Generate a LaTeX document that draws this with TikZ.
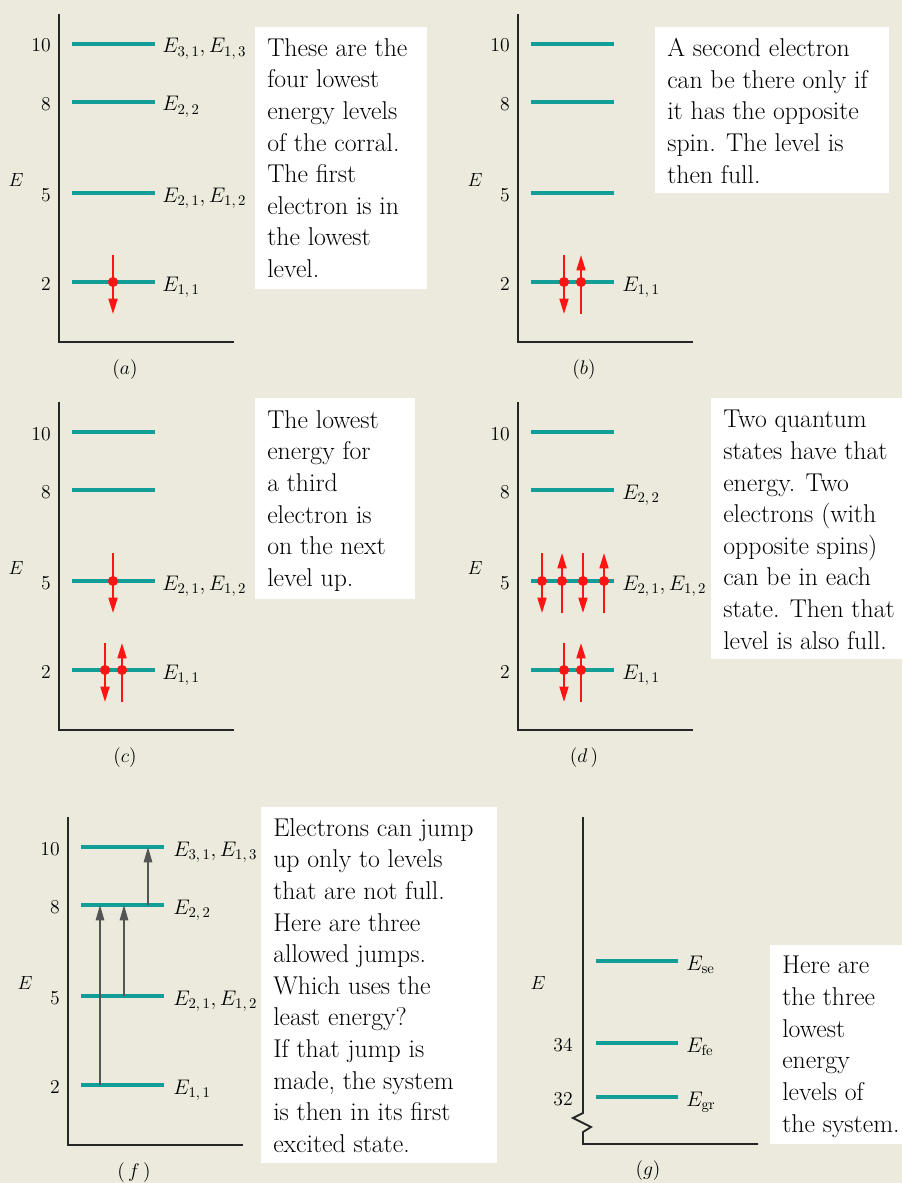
\RequirePackage{fix-cm}
\documentclass[tikz,border=0pt]{standalone}
\usepackage{tikz}
\usetikzlibrary{arrows.meta,positioning,calc}
\definecolor{fond}{HTML}{EBEADC}
\definecolor{niv}{HTML}{119E99}
\definecolor{rouge}{HTML}{FF1414}
\definecolor{gris}{HTML}{555555}
\tikzset{
  axe/.style={draw=black!85, line width=1.3pt},
  niveau/.style={draw=niv, line width=2.8pt},
  spin/.style={draw=rouge, line width=1.4pt, -{Triangle[length=11pt, width=6.4pt]}},
  saut/.style={draw=gris, line width=1.3pt, -{Triangle[length=11pt, width=6pt]}},
  graduation/.style={anchor=base east, inner sep=0pt, font=\fontsize{14}{16}\selectfont},
  etiq/.style={anchor=base west, inner sep=0pt, font=\fontsize{15}{17}\selectfont},
  axenom/.style={inner sep=0pt, font=\fontsize{13.5}{15}\selectfont},
  legende/.style={inner sep=0pt, font=\fontsize{14}{16}\selectfont},
  texte/.style={anchor=north west, align=left, inner sep=0pt, font=\fontsize{18.3}{22.5}\selectfont},
}

\begin{document}
\begin{tikzpicture}[x=0.025cm, y=-0.025cm]
  \fill[fond] (0,0) rectangle (902,1183);

  % (a)
  \begin{scope}[shift={(0,0)}]
    \draw[axe] (59,14) -- (59,342) -- (234,342);
    \foreach \y/\v in {44/10,102/8,193/5,282/2} {
      \draw[niveau] (72,\y) -- (155,\y);
      \node[graduation] (na\v) at (51,\y+8) {\v};
    }
    \node[axenom] (Ea) at (16,180) {$E$};
    \node[etiq] (la10) at (162,53) {$E_{3,\,1}, E_{1,\,3}$};
    \node[etiq] (la8) at (162,111) {$E_{2,\,2}$};
    \node[etiq] (la5) at (162,202) {$E_{2,\,1}, E_{1,\,2}$};
    \node[etiq] (la2) at (162,291) {$E_{1,\,1}$};
    \draw[spin] (113,255) -- (113,314);
    \fill[rouge] (113,282) circle (3.6pt);
    \node[legende] (capa) at (125,370) {$(a)$};
  \end{scope}

  % (b)
  \begin{scope}[shift={(459,0)}]
    \draw[axe] (59,14) -- (59,342) -- (234,342);
    \foreach \y/\v in {44/10,102/8,193/5,282/2} {
      \draw[niveau] (72,\y) -- (155,\y);
      \node[graduation] (nb\v) at (51,\y+8) {\v};
    }
    \node[axenom] (Eb) at (16,180) {$E$};
    \node[etiq] (lb2) at (163,291) {$E_{1,\,1}$};
    \draw[spin] (105,255) -- (105,314);
    \draw[spin] (122,314) -- (122,255);
    \fill[rouge] (105,282) circle (3.6pt) (122,282) circle (3.6pt);
    \node[legende] (capb) at (125,370) {$(b)$};
  \end{scope}

  % (c)
  \begin{scope}[shift={(0,388)}]
    \draw[axe] (59,14) -- (59,342) -- (234,342);
    \foreach \y/\v in {44/10,102/8,193/5,282/2} {
      \draw[niveau] (72,\y) -- (155,\y);
      \node[graduation] (nc\v) at (51,\y+8) {\v};
    }
    \node[axenom] (Ec) at (16,180) {$E$};
    \node[etiq] (lc5) at (162,202) {$E_{2,\,1}, E_{1,\,2}$};
    \node[etiq] (lc2) at (162,291) {$E_{1,\,1}$};
    \draw[spin] (113,165) -- (113,225);
    \draw[spin] (105,255) -- (105,314);
    \draw[spin] (122,314) -- (122,255);
    \fill[rouge] (113,193) circle (3.6pt) (105,282) circle (3.6pt) (122,282) circle (3.6pt);
    \node[legende] (capc) at (125,370) {$(c)$};
  \end{scope}

  % (d)
  \begin{scope}[shift={(459,388)}]
    \draw[axe] (59,14) -- (59,342) -- (234,342);
    \foreach \y/\v in {44/10,102/8,193/5,282/2} {
      \draw[niveau] (72,\y) -- (155,\y);
      \node[graduation] (nd\v) at (51,\y+8) {\v};
    }
    \node[axenom] (Ed) at (16,180) {$E$};
    \node[etiq] (ld8) at (163,111) {$E_{2,\,2}$};
    \node[etiq] (ld5) at (163,202) {$E_{2,\,1}, E_{1,\,2}$};
    \node[etiq] (ld2) at (163,291) {$E_{1,\,1}$};
    \foreach \x in {83,124} {
      \draw[spin] (\x,165) -- (\x,225);
      \fill[rouge] (\x,193) circle (3.6pt);
    }
    \foreach \x in {103,145} {
      \draw[spin] (\x,225) -- (\x,165);
      \fill[rouge] (\x,193) circle (3.6pt);
    }
    \draw[spin] (105,255) -- (105,314);
    \draw[spin] (122,314) -- (122,255);
    \fill[rouge] (105,282) circle (3.6pt) (122,282) circle (3.6pt);
    \node[legende] (capd) at (125,370) {$(d\,)$};
  \end{scope}

  % (f)
  \begin{scope}[shift={(9,803)}]
    \draw[axe] (59,14) -- (59,342) -- (234,342);
    \foreach \y/\v in {44/10,102/8,193/5,282/2} {
      \draw[niveau] (72,\y) -- (155,\y);
      \node[graduation] (nf\v) at (51,\y+8) {\v};
    }
    \node[axenom] (Ef) at (16,180) {$E$};
    \node[etiq] (lf10) at (164,53) {$E_{3,\,1}, E_{1,\,3}$};
    \node[etiq] (lf8) at (164,111) {$E_{2,\,2}$};
    \node[etiq] (lf5) at (164,202) {$E_{2,\,1}, E_{1,\,2}$};
    \node[etiq] (lf2) at (164,291) {$E_{1,\,1}$};
    \coordinate (f2a) at (91,282);
    \coordinate (f8a) at (91,102);
    \coordinate (f5b) at (115,193);
    \coordinate (f8b) at (115,102);
    \coordinate (f8c) at (139,102);
    \coordinate (f10c) at (139,44);
    \draw[saut] (f2a) -- (f8a);
    \draw[saut] (f5b) -- (f8b);
    \draw[saut] (f8c) -- (f10c);
    \node[legende] (capf) at (125,370) {$(\,f\,)$};
  \end{scope}

  % (g)
  \begin{scope}[shift={(523,803)}]
    \draw[axe] (60,14) -- (60,310) -- (50,315) -- (68,324) -- (60,329) -- (60,341) -- (235,341);
    \foreach \y in {158,240,294} {
      \draw[niveau] (73,\y) -- (155,\y);
    }
    \node[graduation] (ng34) at (50,248) {34};
    \node[graduation] (ng32) at (50,302) {32};
    \node[axenom] (Eg) at (15,180) {$E$};
    \node[etiq] (lgse) at (163,167) {$E_{\mathrm{se}}$};
    \node[etiq] (lgfe) at (163,249) {$E_{\mathrm{fe}}$};
    \node[etiq] (lggr) at (163,303) {$E_{\mathrm{gr}}$};
    \node[legende] (capg) at (125,368) {$(g)$};
  \end{scope}

  % encadres
  \fill[white] (255,27) rectangle (427,289);
  \node[texte] (txta) at (267,38) {These are the\\four lowest\\energy levels\\of the corral.\\The first\\electron is in\\the lowest\\level.};
  \fill[white] (655,27) rectangle (889,193);
  \node[texte] (txtb) at (667,38) {A second electron\\can be there only if\\it has the opposite\\spin. The level is\\then full.};
  \fill[white] (255,398) rectangle (415,599);
  \node[texte] (txtc) at (267,410) {The lowest\\energy for\\a third\\electron is\\on the next\\level up.};
  \fill[white] (711,398) rectangle (902,659);
  \node[texte] (txtd) at (723,410) {Two quantum\\states have that\\energy. Two\\electrons (with\\opposite spins)\\can be in each\\state. Then that\\level is also full.};
  \fill[white] (261,807) rectangle (497,1163);
  \node[texte] (txtf) at (273,818) {Electrons can jump\\up only to levels\\that are not full.\\Here are three\\allowed jumps.\\Which uses the\\least energy?\\If that jump is\\made, the system\\is then in its first\\excited state.};
  \fill[white] (770,945) rectangle (902,1144);
  \node[texte] (txtg) at (782,956) {Here are\\the three\\lowest\\energy\\levels of\\the system.};
\end{tikzpicture}
\end{document}
